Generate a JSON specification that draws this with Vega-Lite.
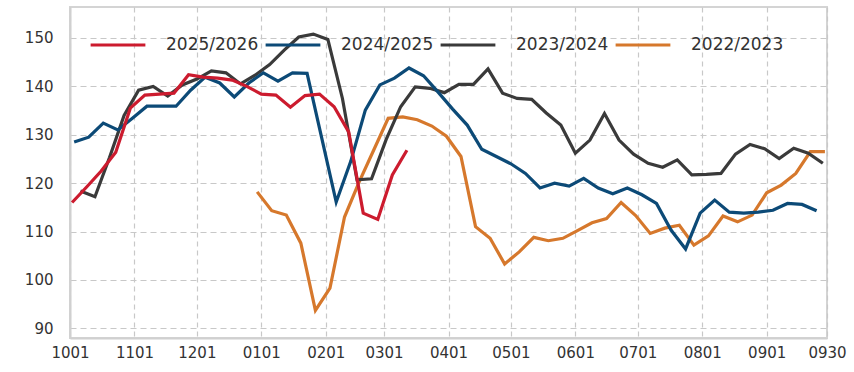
{
  "$schema": "https://vega.github.io/schema/vega-lite/v6.json",
  "width": 757,
  "height": 331,
  "autosize": {"type": "none"},
  "padding": {"left": 70, "top": 7, "right": 27, "bottom": 34},
  "config": {
    "font": "DejaVu Sans",
    "view": {"stroke": "#d4d4d4", "strokeWidth": 2},
    "axis": {
      "labelColor": "#333333",
      "domainColor": "#d0d0d0",
      "domainWidth": 2,
      "ticks": false,
      "gridColor": "#c8c8c8",
      "gridWidth": 1.2,
      "gridDash": [6, 4],
      "title": null
    }
  },
  "data": {
    "values": [
      {"s": "2022/2023", "d": 90, "v": 118.2}, {"s": "2022/2023", "d": 97, "v": 114.3}, {"s": "2022/2023", "d": 104, "v": 113.4}, {"s": "2022/2023", "d": 111, "v": 107.6}, {"s": "2022/2023", "d": 118, "v": 93.7}, {"s": "2022/2023", "d": 125, "v": 98.3}, {"s": "2022/2023", "d": 132, "v": 113}, {"s": "2022/2023", "d": 139, "v": 120.2}, {"s": "2022/2023", "d": 146, "v": 126.8}, {"s": "2022/2023", "d": 153, "v": 133.4},
      {"s": "2022/2023", "d": 160, "v": 133.7}, {"s": "2022/2023", "d": 167, "v": 133.1}, {"s": "2022/2023", "d": 174, "v": 131.8}, {"s": "2022/2023", "d": 181, "v": 129.7}, {"s": "2022/2023", "d": 188, "v": 125.5}, {"s": "2022/2023", "d": 195, "v": 111}, {"s": "2022/2023", "d": 202, "v": 108.6}, {"s": "2022/2023", "d": 209, "v": 103.3}, {"s": "2022/2023", "d": 216, "v": 105.8}, {"s": "2022/2023", "d": 223, "v": 108.8},
      {"s": "2022/2023", "d": 230, "v": 108.1}, {"s": "2022/2023", "d": 237, "v": 108.6}, {"s": "2022/2023", "d": 244, "v": 110.2}, {"s": "2022/2023", "d": 251, "v": 111.8}, {"s": "2022/2023", "d": 258, "v": 112.7}, {"s": "2022/2023", "d": 265, "v": 116}, {"s": "2022/2023", "d": 272, "v": 113.3}, {"s": "2022/2023", "d": 279, "v": 109.6}, {"s": "2022/2023", "d": 286, "v": 110.7}, {"s": "2022/2023", "d": 293, "v": 111.3},
      {"s": "2022/2023", "d": 300, "v": 107.2}, {"s": "2022/2023", "d": 307, "v": 109.1}, {"s": "2022/2023", "d": 314, "v": 113.2}, {"s": "2022/2023", "d": 321, "v": 112}, {"s": "2022/2023", "d": 328, "v": 113.4}, {"s": "2022/2023", "d": 335, "v": 118}, {"s": "2022/2023", "d": 342, "v": 119.6}, {"s": "2022/2023", "d": 349, "v": 122}, {"s": "2022/2023", "d": 356, "v": 126.5}, {"s": "2022/2023", "d": 363, "v": 126.5},

      {"s": "2023/2024", "d": 5, "v": 118.4}, {"s": "2023/2024", "d": 12, "v": 117.2}, {"s": "2023/2024", "d": 19, "v": 125.3}, {"s": "2023/2024", "d": 26, "v": 134}, {"s": "2023/2024", "d": 33, "v": 139.2}, {"s": "2023/2024", "d": 40, "v": 140}, {"s": "2023/2024", "d": 47, "v": 138}, {"s": "2023/2024", "d": 54, "v": 140.3}, {"s": "2023/2024", "d": 61, "v": 141.5}, {"s": "2023/2024", "d": 68, "v": 143.2},
      {"s": "2023/2024", "d": 75, "v": 142.8}, {"s": "2023/2024", "d": 82, "v": 140.5}, {"s": "2023/2024", "d": 89, "v": 142.3}, {"s": "2023/2024", "d": 96, "v": 144.5}, {"s": "2023/2024", "d": 103, "v": 147.5}, {"s": "2023/2024", "d": 110, "v": 150.2}, {"s": "2023/2024", "d": 117, "v": 150.8}, {"s": "2023/2024", "d": 124, "v": 149.7}, {"s": "2023/2024", "d": 131, "v": 137.5}, {"s": "2023/2024", "d": 138, "v": 120.7},
      {"s": "2023/2024", "d": 145, "v": 120.9}, {"s": "2023/2024", "d": 152, "v": 129}, {"s": "2023/2024", "d": 159, "v": 135.8}, {"s": "2023/2024", "d": 166, "v": 139.9}, {"s": "2023/2024", "d": 173, "v": 139.6}, {"s": "2023/2024", "d": 180, "v": 138.7}, {"s": "2023/2024", "d": 187, "v": 140.4}, {"s": "2023/2024", "d": 194, "v": 140.4}, {"s": "2023/2024", "d": 201, "v": 143.6}, {"s": "2023/2024", "d": 208, "v": 138.6},
      {"s": "2023/2024", "d": 215, "v": 137.5}, {"s": "2023/2024", "d": 222, "v": 137.3}, {"s": "2023/2024", "d": 229, "v": 134.5}, {"s": "2023/2024", "d": 236, "v": 132}, {"s": "2023/2024", "d": 243, "v": 126.2}, {"s": "2023/2024", "d": 250, "v": 128.9}, {"s": "2023/2024", "d": 257, "v": 134.4}, {"s": "2023/2024", "d": 264, "v": 128.9}, {"s": "2023/2024", "d": 271, "v": 126}, {"s": "2023/2024", "d": 278, "v": 124.1},
      {"s": "2023/2024", "d": 285, "v": 123.3}, {"s": "2023/2024", "d": 292, "v": 124.8}, {"s": "2023/2024", "d": 299, "v": 121.7}, {"s": "2023/2024", "d": 306, "v": 121.8}, {"s": "2023/2024", "d": 313, "v": 122}, {"s": "2023/2024", "d": 320, "v": 126}, {"s": "2023/2024", "d": 327, "v": 128}, {"s": "2023/2024", "d": 334, "v": 127.1}, {"s": "2023/2024", "d": 341, "v": 125.1}, {"s": "2023/2024", "d": 348, "v": 127.2},
      {"s": "2023/2024", "d": 355, "v": 126.2}, {"s": "2023/2024", "d": 362, "v": 124.1},

      {"s": "2024/2025", "d": 2, "v": 128.5}, {"s": "2024/2025", "d": 9, "v": 129.5}, {"s": "2024/2025", "d": 16, "v": 132.4}, {"s": "2024/2025", "d": 23, "v": 131}, {"s": "2024/2025", "d": 30, "v": 133.4}, {"s": "2024/2025", "d": 37, "v": 135.9}, {"s": "2024/2025", "d": 44, "v": 135.9}, {"s": "2024/2025", "d": 51, "v": 135.9}, {"s": "2024/2025", "d": 58, "v": 139.2}, {"s": "2024/2025", "d": 65, "v": 141.9},
      {"s": "2024/2025", "d": 72, "v": 140.7}, {"s": "2024/2025", "d": 79, "v": 137.8}, {"s": "2024/2025", "d": 86, "v": 140.7}, {"s": "2024/2025", "d": 93, "v": 142.8}, {"s": "2024/2025", "d": 100, "v": 141.1}, {"s": "2024/2025", "d": 107, "v": 142.8}, {"s": "2024/2025", "d": 114, "v": 142.7}, {"s": "2024/2025", "d": 121, "v": 129.4}, {"s": "2024/2025", "d": 128, "v": 116.1}, {"s": "2024/2025", "d": 135, "v": 124.5},
      {"s": "2024/2025", "d": 142, "v": 135.1}, {"s": "2024/2025", "d": 149, "v": 140.3}, {"s": "2024/2025", "d": 156, "v": 141.7}, {"s": "2024/2025", "d": 163, "v": 143.8}, {"s": "2024/2025", "d": 170, "v": 142.2}, {"s": "2024/2025", "d": 177, "v": 138.8}, {"s": "2024/2025", "d": 184, "v": 135.3}, {"s": "2024/2025", "d": 191, "v": 132}, {"s": "2024/2025", "d": 198, "v": 127}, {"s": "2024/2025", "d": 205, "v": 125.5},
      {"s": "2024/2025", "d": 212, "v": 124}, {"s": "2024/2025", "d": 219, "v": 122}, {"s": "2024/2025", "d": 226, "v": 119}, {"s": "2024/2025", "d": 233, "v": 120}, {"s": "2024/2025", "d": 240, "v": 119.4}, {"s": "2024/2025", "d": 247, "v": 121}, {"s": "2024/2025", "d": 254, "v": 119}, {"s": "2024/2025", "d": 261, "v": 117.8}, {"s": "2024/2025", "d": 268, "v": 119}, {"s": "2024/2025", "d": 275, "v": 117.6},
      {"s": "2024/2025", "d": 282, "v": 115.8}, {"s": "2024/2025", "d": 289, "v": 110.3}, {"s": "2024/2025", "d": 296, "v": 106.4}, {"s": "2024/2025", "d": 303, "v": 113.8}, {"s": "2024/2025", "d": 310, "v": 116.5}, {"s": "2024/2025", "d": 317, "v": 114}, {"s": "2024/2025", "d": 324, "v": 113.8}, {"s": "2024/2025", "d": 331, "v": 114}, {"s": "2024/2025", "d": 338, "v": 114.4}, {"s": "2024/2025", "d": 345, "v": 115.8},
      {"s": "2024/2025", "d": 352, "v": 115.6}, {"s": "2024/2025", "d": 359, "v": 114.3},

      {"s": "2025/2026", "d": 1, "v": 116}, {"s": "2025/2026", "d": 8, "v": 119.2}, {"s": "2025/2026", "d": 15, "v": 122.5}, {"s": "2025/2026", "d": 22, "v": 126.4}, {"s": "2025/2026", "d": 29, "v": 135.5}, {"s": "2025/2026", "d": 36, "v": 138.2}, {"s": "2025/2026", "d": 43, "v": 138.4}, {"s": "2025/2026", "d": 50, "v": 138.6}, {"s": "2025/2026", "d": 57, "v": 142.4}, {"s": "2025/2026", "d": 64, "v": 141.9},
      {"s": "2025/2026", "d": 71, "v": 141.7}, {"s": "2025/2026", "d": 78, "v": 141.3}, {"s": "2025/2026", "d": 85, "v": 140}, {"s": "2025/2026", "d": 92, "v": 138.4}, {"s": "2025/2026", "d": 99, "v": 138.2}, {"s": "2025/2026", "d": 106, "v": 135.7}, {"s": "2025/2026", "d": 113, "v": 138.1}, {"s": "2025/2026", "d": 120, "v": 138.4}, {"s": "2025/2026", "d": 127, "v": 135.8}, {"s": "2025/2026", "d": 134, "v": 130.6},
      {"s": "2025/2026", "d": 141, "v": 113.8}, {"s": "2025/2026", "d": 148, "v": 112.5}, {"s": "2025/2026", "d": 155, "v": 121.7}, {"s": "2025/2026", "d": 162, "v": 126.8}
    ]
  },
  "mark": {"type": "line", "strokeWidth": 3.2, "strokeJoin": "miter", "clip": true},
  "encoding": {
    "x": {
      "field": "d",
      "type": "quantitative",
      "scale": {"domain": [0, 364], "nice": false, "zero": false},
      "axis": {
        "values": [0, 31, 61, 92, 123, 151, 182, 212, 243, 273, 304, 335, 364],
        "labelExpr": "['1001','1101','1201','0101','0201','0301','0401','0501','0601','0701','0801','0901','0930'][indexof([0,31,61,92,123,151,182,212,243,273,304,335,364], datum.value)]",
        "labelFontSize": 15,
        "labelPadding": 7,
        "labelFlush": false,
        "gridDash": [5, 4]
      }
    },
    "y": {
      "field": "v",
      "type": "quantitative",
      "scale": {"domain": [88, 156.4], "nice": false, "zero": false},
      "axis": {
        "values": [90, 100, 110, 120, 130, 140, 150],
        "labelFontSize": 15,
        "labelPadding": 17
      }
    },
    "color": {
      "field": "s",
      "type": "nominal",
      "scale": {
        "domain": ["2025/2026", "2024/2025", "2023/2024", "2022/2023"],
        "range": ["#cc1b2e", "#0c4a77", "#3a3a3a", "#d6782c"]
      },
      "legend": {
        "title": null,
        "orient": "none",
        "legendX": 19,
        "legendY": 9,
        "direction": "horizontal",
        "columns": 4,
        "gridAlign": "all",
        "symbolType": "stroke",
        "symbolSize": 3000,
        "symbolStrokeWidth": 3,
        "labelFontSize": 17,
        "labelColor": "#333333",
        "labelOffset": 19,
        "columnPadding": 0
      }
    }
  }
}
